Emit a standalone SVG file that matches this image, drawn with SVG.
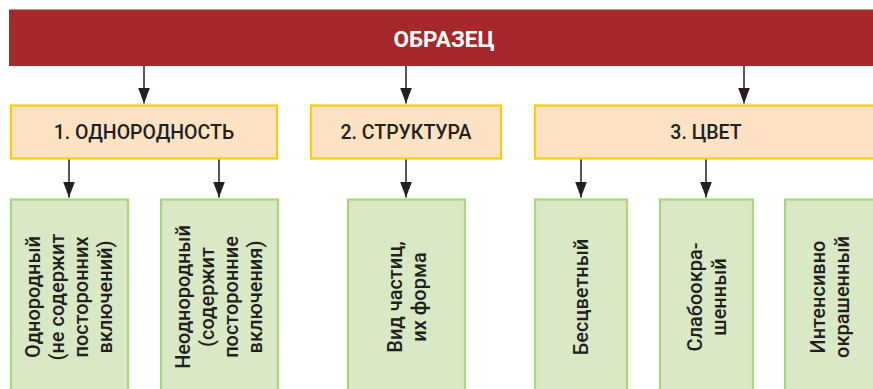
<svg xmlns="http://www.w3.org/2000/svg" width="873" height="389" viewBox="0 0 873 389">
<defs>
<style>
.bar{fill:#a6282a}
.cat{fill:#fde3c4;stroke:#ffcb05;stroke-width:2.2}
.leaf{fill:#d9e8c5;stroke:#a9d67a;stroke-width:2.2}
.t{font-family:Roboto,"Liberation Sans",sans-serif;fill:#231f20}
.title{font-family:Roboto,"Liberation Sans",sans-serif;font-weight:bold;font-size:22.5px;fill:#ffffff}
.hd{font-size:19.5px;font-weight:500}
.vt{font-size:20px;font-weight:500}
.conn line{stroke:#231f20;stroke-width:1.5}
</style>
<marker id="ah" markerUnits="userSpaceOnUse" markerWidth="16" markerHeight="12" refX="16" refY="6" orient="auto" viewBox="0 0 16 12">
<path d="M0,0 L16,6 L0,12 z" fill="#231f20"/>
</marker>
</defs>
<rect width="873" height="389" fill="#ffffff"/>

<g id="root">
<rect class="bar" x="9" y="9.5" width="870" height="56.5"/>
<text class="title" x="444" y="47" text-anchor="middle">ОБРАЗЕЦ</text>
</g>

<g id="cat1">
<rect class="cat" x="11" y="105.5" width="266" height="53"/>
<text class="t hd" x="144" y="139" text-anchor="middle">1. ОДНОРОДНОСТЬ</text>
</g>
<g id="cat2">
<rect class="cat" x="311" y="105.5" width="190" height="53"/>
<text class="t hd" x="406" y="139" text-anchor="middle">2. СТРУКТУРА</text>
</g>
<g id="cat3">
<rect class="cat" x="535" y="105.5" width="345" height="53"/>
<text class="t hd" x="706" y="139" text-anchor="middle">3. ЦВЕТ</text>
</g>

<g id="leaf1">
<rect class="leaf" x="11" y="199.5" width="117" height="200"/>
<text class="t vt" transform="translate(69,297) rotate(-90)" text-anchor="middle"><tspan x="0" y="-29">Однородный</tspan><tspan x="0" y="-5">(не содержит</tspan><tspan x="0" y="19">посторонних</tspan><tspan x="0" y="43">включений)</tspan></text>
</g>
<g id="leaf2">
<rect class="leaf" x="161" y="199.5" width="117" height="200"/>
<text class="t vt" transform="translate(219,297) rotate(-90)" text-anchor="middle"><tspan x="0" y="-29">Неоднородный</tspan><tspan x="0" y="-5">(содержит</tspan><tspan x="0" y="19">посторонние</tspan><tspan x="0" y="43">включения)</tspan></text>
</g>
<g id="leaf3">
<rect class="leaf" x="348" y="199.5" width="117" height="200"/>
<text class="t vt" transform="translate(407,297) rotate(-90)" text-anchor="middle"><tspan x="0" y="-5">Вид частиц,</tspan><tspan x="0" y="19">их форма</tspan></text>
</g>
<g id="leaf4">
<rect class="leaf" x="535" y="199.5" width="92" height="200"/>
<text class="t vt" transform="translate(581,297) rotate(-90)" text-anchor="middle"><tspan x="0" y="7">Бесцветный</tspan></text>
</g>
<g id="leaf5">
<rect class="leaf" x="660" y="199.5" width="93" height="200"/>
<text class="t vt" transform="translate(707,297) rotate(-90)" text-anchor="middle"><tspan x="0" y="-5">Слабоокра-</tspan><tspan x="0" y="19">шенный</tspan></text>
</g>
<g id="leaf6">
<rect class="leaf" x="785" y="199.5" width="100" height="200"/>
<text class="t vt" transform="translate(830,297) rotate(-90)" text-anchor="middle"><tspan x="0" y="-5">Интенсивно</tspan><tspan x="0" y="19">окрашенный</tspan></text>
</g>

<g id="connectors" class="conn">
<line x1="144" y1="66" x2="144" y2="103.5" marker-end="url(#ah)"/>
<line x1="406" y1="66" x2="406" y2="103.5" marker-end="url(#ah)"/>
<line x1="744" y1="66" x2="744" y2="103.5" marker-end="url(#ah)"/>
<line x1="69" y1="159.5" x2="69" y2="197.5" marker-end="url(#ah)"/>
<line x1="219" y1="159.5" x2="219" y2="197.5" marker-end="url(#ah)"/>
<line x1="406" y1="159.5" x2="406" y2="197.5" marker-end="url(#ah)"/>
<line x1="581" y1="159.5" x2="581" y2="197.5" marker-end="url(#ah)"/>
<line x1="706" y1="159.5" x2="706" y2="197.5" marker-end="url(#ah)"/>
</g>
</svg>
